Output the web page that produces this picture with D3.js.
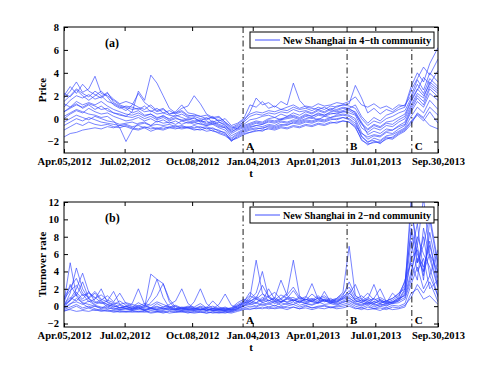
<!DOCTYPE html>
<html lang="en">
<head>
	<meta charset="utf-8">
	<title>New Shanghai price and turnover</title>
	<script src="https://d3js.org/d3.v7.min.js" charset="utf-8"></script>
	<style>
		body { margin: 0; background: #fff; }
		text { font-family: "Liberation Serif", "Times New Roman", serif; font-weight: bold; }
	</style>
</head>
<body>
	<script>
		// sampling dates (about every 9 days)
		var dates = ["2012-04-05","2012-04-14","2012-04-23","2012-05-02","2012-05-11","2012-05-20","2012-05-29","2012-06-07","2012-06-16","2012-06-25",
			"2012-07-04","2012-07-13","2012-07-22","2012-07-31","2012-08-09","2012-08-18","2012-08-27","2012-09-05","2012-09-14","2012-09-23",
			"2012-10-02","2012-10-11","2012-10-20","2012-10-29","2012-11-07","2012-11-16","2012-11-25","2012-12-04","2012-12-13","2012-12-22",
			"2012-12-31","2013-01-09","2013-01-18","2013-01-27","2013-02-05","2013-02-14","2013-02-23","2013-03-04","2013-03-13","2013-03-22",
			"2013-03-31","2013-04-09","2013-04-18","2013-04-27","2013-05-06","2013-05-15","2013-05-24","2013-06-02","2013-06-11","2013-06-20",
			"2013-06-29","2013-07-08","2013-07-17","2013-07-26","2013-08-04","2013-08-13","2013-08-22","2013-08-31","2013-09-09","2013-09-18","2013-09-30"];

		var xTickDates = ["2012-04-05","2012-07-02","2012-10-08","2013-01-04","2013-04-01","2013-07-01","2013-09-30"];
		var xTickLabels = ["Apr.05,2012","Jul.02,2012","Oct.08,2012","Jan.04,2013","Apr.01,2013","Jul.01,2013","Sep.30,2013"];
		var eventDates = ["2012-12-21","2013-05-21","2013-08-23"];
		var eventLabels = ["A","B","C"];
		var priceTicks = [-2, 0, 2, 4, 6, 8];
		var turnoverTicks = [-2, 0, 2, 4, 6, 8, 10, 12];

		// (a) price series, 4-th community
		var priceSeries = [
			[1.8,2.4,3.2,2.3,2.6,3.7,2.2,2.0,1.6,1.2,1.0, 0.8,0.9,0.6,0.7,0.4,0.5,0.3,0.2,0.4,0.1, 0.0,-0.2,0.1,-0.3,-0.1,-0.4,-0.9,-0.6, -0.3,0.2,0.4,0.3,0.5,0.4,0.6,0.5,0.8,0.6,0.7,0.5,0.8,0.6,0.9,0.8,1.0, 0.9,0.5,-0.5,-1.0,-0.6,-0.8,-0.4,-0.5,-0.1,0.2, 1.5,2.5,3.6,3.0,4.2],
			[0.6,0.9,1.2,1.0,1.3,1.1,0.8,0.9,0.5,0.3,0.2, 0.6,2.4,1.6,3.8,3.1,2.0,0.9,0.5,0.7,0.3, 0.2,0.0,-0.1,0.2,-0.3,-0.5,-1.2,-0.8, -0.6,-0.4,-0.2,-0.3,0.0,0.1,-0.1,0.2,0.3,0.1,0.4,0.2,0.5,0.3,0.6,0.7,0.9, 0.8,0.6,-0.3,-1.4,-1.1,-1.3,-0.9,-1.0,-0.6,-0.3, 1.0,2.0,1.5,2.8,2.2],
			[1.5,2.0,2.6,2.2,1.9,2.4,2.0,1.5,1.3,1.0,0.7, 1.2,2.2,1.4,1.0,0.6,0.8,0.4,0.5,0.9,1.1, 2.0,1.3,0.4,0.1,0.2,-0.3,-0.7,-0.9, -0.2,0.6,1.8,1.2,1.4,1.0,1.5,1.2,3.1,1.6,1.0,0.9,0.8,1.0,0.7,1.1,1.2, 1.3,2.9,1.8,0.5,0.9,0.4,0.8,0.6,1.0,1.2, 2.0,3.4,2.5,4.0,3.2],
			[-1.6,-1.3,-1.2,-1.0,-0.9,-0.8,-0.9,-0.7,-0.8,-0.6,-0.7, -0.9,-1.0,-0.8,-1.1,-0.9,-1.0,-0.8,-0.9,-0.7,-0.8, -0.9,-1.0,-0.8,-1.1,-1.2,-1.4,-1.9,-1.6, -1.3,-1.2,-1.0,-1.1,-0.8,-0.9,-0.7,-0.8,-0.6,-0.7,-0.5,-0.6,-0.4,-0.5,-0.3,-0.4,-0.2, -0.3,-0.8,-1.8,-2.3,-2.0,-2.1,-1.8,-1.6,-1.2,-0.9, -0.2,0.4,0.0,-0.6,-0.9],
			[0.2,0.5,0.8,0.6,0.4,0.3,0.1,0.2,-0.2,-0.8,-2.0, -1.0,-0.4,-0.3,-0.6,-0.2,-0.4,-0.3,-0.5,-0.2,-0.4, -0.3,-0.5,-0.6,-0.4,-0.7,-0.8,-1.5,-1.2, -0.9,-0.7,-0.6,-0.5,-0.3,-0.4,-0.2,-0.3,-0.1,-0.2,0.0,0.1,-0.1,0.2,0.1,0.3,0.4, 0.3,0.0,-1.2,-1.8,-1.5,-1.6,-1.2,-1.3,-0.9,-0.6, 0.6,1.5,1.0,2.2,1.6],
			[1.0,1.6,2.0,1.8,2.1,1.7,1.9,2.3,1.4,1.1,0.9, 0.5,0.7,0.3,0.4,0.1,0.2,0.0,0.3,0.1,-0.1, 0.1,-0.3,-0.2,-0.5,-0.3,-0.6,-1.0,-0.7, -0.5,-0.1,0.0,0.2,0.3,0.1,0.4,0.2,0.5,0.3,0.6,0.4,0.7,0.5,0.8,0.6,0.7, 0.9,1.2,0.2,-0.4,0.1,-0.2,0.3,0.5,0.8,1.0, 2.5,3.5,4.5,3.8,5.2],
			[0.0,0.4,0.7,0.5,0.9,0.6,0.4,0.5,0.2,0.0,-0.2, -0.1,0.1,-0.2,0.0,-0.3,-0.1,-0.4,-0.2,-0.5,-0.3, -0.5,-0.4,-0.6,-0.5,-0.8,-1.0,-1.7,-1.3, -1.0,-0.8,-0.6,-0.7,-0.5,-0.6,-0.3,-0.4,-0.2,-0.3,-0.1,-0.2,0.0,-0.1,0.1,0.2,0.3, 0.2,-0.2,-1.5,-2.1,-1.7,-1.9,-1.5,-1.4,-1.1,-0.8, 0.2,1.0,0.5,1.6,0.8],
			[2.2,1.9,2.5,2.0,1.6,2.0,2.4,1.9,1.2,0.9,1.1, 1.0,0.8,1.1,0.6,0.9,0.5,0.7,0.4,0.6,0.2, 0.3,0.2,0.0,0.1,-0.2,0.0,-0.6,-0.4, 0.0,1.2,1.0,1.5,0.9,1.1,0.8,1.0,1.2,0.9,1.1,1.0,1.3,1.1,1.2,1.4,1.3, 1.5,1.9,1.2,1.0,1.3,0.9,1.1,0.8,1.2,1.1, 2.8,4.0,3.2,4.8,6.2],
			[-0.6,-0.3,0.0,-0.2,0.1,-0.1,-0.3,-0.4,-0.5,-0.6,-0.5, -0.7,-0.6,-0.8,-0.7,-0.9,-0.7,-0.8,-0.6,-0.8,-0.7, -0.8,-0.7,-0.9,-0.8,-1.1,-1.2,-2.0,-1.5, -1.2,-1.0,-0.9,-0.8,-0.7,-0.8,-0.6,-0.5,-0.4,-0.5,-0.3,-0.4,-0.2,-0.3,-0.1,0.0,0.1, 0.0,-0.4,-1.6,-2.0,-1.9,-2.2,-1.7,-1.8,-1.4,-1.1, -0.5,0.5,0.1,1.0,0.3],
			[1.3,1.0,1.5,1.2,1.4,1.2,1.5,1.1,0.8,0.6,0.4, 0.3,0.5,0.2,0.4,0.0,0.3,-0.1,0.1,-0.2,0.0, -0.2,-0.1,-0.4,-0.2,-0.5,-0.7,-1.1,-0.9, -0.7,-0.5,-0.3,-0.4,-0.1,-0.2,0.0,0.1,0.2,0.0,0.3,0.2,0.4,0.3,0.5,0.4,0.6, 0.5,0.3,-0.8,-1.2,-0.8,-1.0,-0.6,-0.7,-0.3,0.0, 1.2,2.2,1.8,3.2,2.6],
			[-0.3,0.0,0.3,0.1,-0.1,0.2,0.0,-0.2,-0.3,-0.5,-0.4, -0.3,-0.5,-0.4,-0.6,-0.5,-0.6,-0.5,-0.7,-0.6,-0.8, -0.6,-0.8,-0.7,-0.9,-1.0,-1.3,-1.8,-1.4, -1.1,-0.9,-0.8,-0.9,-0.6,-0.7,-0.5,-0.6,-0.3,-0.4,-0.2,-0.3,-0.1,-0.2,0.0,-0.1,0.1, -0.1,-0.6,-1.3,-1.6,-1.4,-1.5,-1.1,-1.0,-0.7,-0.5, 0.8,1.8,1.2,2.6,1.9],
			[2.0,2.8,2.2,3.0,2.4,2.1,1.8,2.2,1.7,1.3,1.5, 1.3,1.0,0.8,1.2,0.7,0.9,0.4,0.6,1.2,0.5, 0.4,0.2,0.3,0.0,0.1,-0.3,-0.8,-0.5, -0.1,0.4,0.6,0.5,0.7,0.6,0.8,0.7,1.0,0.8,0.9,0.7,1.0,0.8,1.1,1.0,1.2, 1.1,0.9,0.0,-0.6,-0.2,-0.4,0.0,0.2,0.5,0.7, 1.8,3.0,2.2,3.5,2.8],
			[-1.0,-0.7,-0.4,-0.6,-0.3,-0.5,-0.6,-0.5,-0.7,-0.8,-0.6, -0.8,-0.9,-0.7,-0.9,-0.8,-0.9,-0.7,-0.8,-0.9,-0.8, -1.0,-0.9,-1.1,-1.0,-1.3,-1.5,-1.9,-1.7, -1.4,-1.2,-1.1,-1.0,-0.9,-1.0,-0.8,-0.9,-0.7,-0.8,-0.6,-0.7,-0.5,-0.6,-0.4,-0.3,-0.2, -0.3,-0.7,-1.9,-2.2,-2.1,-2.0,-1.6,-1.7,-1.3,-1.0, -0.3,0.3,-0.2,0.6,-0.4],
			[0.6,1.0,1.3,0.9,1.2,0.8,1.1,0.7,0.5,0.4,0.2, 0.1,0.3,0.0,0.2,-0.1,0.1,-0.2,0.0,-0.1,-0.2, -0.3,-0.2,-0.5,-0.3,-0.6,-0.8,-1.3,-1.0, -0.8,-0.6,-0.4,-0.5,-0.2,-0.3,-0.1,0.0,0.1,-0.1,0.2,0.0,0.3,0.2,0.4,0.5,0.6, 0.7,0.4,-0.4,-0.9,-0.5,-0.7,-0.3,-0.2,0.1,0.4, 1.6,2.6,2.0,3.0,2.4]
		];

		// (b) turnover rate series, 2-nd community
		var turnoverSeries = [
			[0.5,5.0,1.2,0.3,-0.2,0.0,-0.3,-0.1,-0.4,-0.2,-0.3, -0.4,-0.2,-0.5,-0.3,-0.4,-0.5,-0.3,-0.4,-0.5,-0.4, -0.5,-0.3,-0.5,-0.4,-0.6,-0.5,-0.4,-0.3, 0.2,0.5,0.3,0.8,0.4,0.6,0.9,1.5,5.3,1.2,0.5,0.8,0.4,0.7,0.3,0.5,0.8, 1.0,0.4,0.2,0.5,0.1,0.3,0.0,0.4,0.6,1.5, 6.0,9.5,4.0,7.5,2.5],
			[0.0,1.5,4.4,2.0,0.8,0.2,0.5,-0.1,0.3,-0.2,0.0, -0.3,0.1,-0.2,3.7,3.1,1.0,-0.2,-0.4,-0.3,-0.5, -0.4,-0.5,-0.3,-0.5,-0.4,-0.6,-0.5,-0.2, 0.4,1.0,5.3,1.5,0.6,1.0,0.5,0.8,0.6,1.1,0.7,0.9,0.6,0.8,0.5,0.7,1.0, 1.8,0.6,0.4,0.2,0.5,0.3,0.6,0.4,0.8,2.0, 12.5,5.0,8.0,3.5,6.5],
			[-0.2,0.8,2.0,3.8,1.6,1.0,0.4,0.2,-0.1,0.1,-0.3, -0.2,-0.4,0.0,1.2,3.1,2.6,0.5,-0.3,-0.2,-0.4, -0.3,-0.4,-0.5,-0.3,-0.5,-0.4,-0.3,0.0, 0.5,0.3,0.8,0.5,1.2,0.6,0.4,0.9,1.0,0.6,0.8,0.5,1.0,0.6,0.4,0.9,1.6, 6.9,1.2,0.5,0.8,0.3,0.6,0.2,0.5,0.9,1.2, 4.0,7.0,3.0,10.0,4.5],
			[-0.5,-0.4,-0.6,-0.5,-0.6,-0.4,-0.6,-0.5,-0.7,-0.6,-0.7, -0.6,-0.7,-0.6,-0.8,-0.7,-0.6,-0.8,-0.7,-0.6,-0.7, -0.8,-0.7,-0.6,-0.8,-0.7,-0.8,-0.6,-0.5, -0.3,-0.4,-0.2,-0.3,-0.1,-0.3,-0.2,-0.4,-0.1,-0.3,-0.2,-0.4,-0.2,-0.3,-0.1,-0.3,-0.2, 0.0,-0.3,-0.2,-0.4,-0.3,-0.5,-0.2,-0.4,-0.3,-0.1, 1.5,2.0,0.8,1.2,0.2],
			[0.3,1.0,0.6,1.4,0.5,0.8,2.0,0.4,0.1,-0.2,0.0, -0.3,-0.1,-0.4,-0.2,-0.3,-0.1,0.2,0.6,2.0,0.3, -0.2,-0.4,-0.3,-0.5,-0.4,-0.3,-0.5,-0.3, 0.0,0.6,0.9,0.4,0.7,0.3,0.6,0.5,0.8,0.4,1.0,2.6,0.8,0.5,0.7,0.4,0.9, 1.2,0.7,0.4,0.8,2.5,0.6,0.3,0.5,0.7,1.8, 7.5,4.0,5.5,2.0,3.0],
			[0.1,0.6,1.6,0.8,1.7,0.5,0.3,0.6,1.7,0.2,-0.1, 0.3,2.0,0.2,-0.2,0.0,-0.3,-0.1,-0.4,-0.2,-0.3, 0.5,2.0,0.3,-0.3,-0.4,-0.2,-0.4,-0.1, 0.3,0.8,1.5,4.0,1.0,0.5,0.8,0.4,0.7,0.5,0.3,0.6,0.4,0.8,0.5,0.3,0.6, 0.9,0.5,0.7,0.3,0.9,2.0,0.5,0.3,0.6,1.0, 3.5,8.0,6.0,4.5,1.0],
			[-0.2,0.3,0.5,0.2,0.6,0.1,-0.1,-0.3,-0.2,-0.4,-0.3, -0.5,-0.3,-0.4,-0.2,-0.5,-0.4,-0.3,-0.5,-0.4,-0.3, -0.4,-0.2,-0.5,-0.3,0.2,1.4,0.1,-0.2, 0.1,0.3,0.0,0.4,0.2,0.5,0.1,0.3,0.2,0.6,0.3,0.1,0.4,1.7,0.5,0.2,0.4, 0.7,0.3,0.1,0.4,0.2,0.0,0.3,0.5,1.0,3.0, 5.0,3.0,9.0,5.5,2.0],
			[0.4,2.5,1.2,2.8,0.9,1.5,0.6,0.2,0.0,-0.2,-0.1, -0.2,0.0,-0.3,0.4,1.2,2.6,0.8,-0.1,-0.3,-0.2, -0.3,-0.1,-0.4,-0.2,-0.3,-0.5,-0.3,0.1, 0.3,0.7,0.4,1.0,0.6,0.9,3.0,1.2,0.7,0.4,0.8,0.5,0.3,0.7,0.4,0.6,0.9, 1.4,2.5,0.8,0.5,0.3,0.7,0.4,1.5,0.8,1.3, 5.5,6.5,3.5,8.5,3.8],
			[-0.4,-0.1,0.2,-0.2,0.0,-0.3,-0.5,-0.4,-0.6,-0.5,-0.6, -0.5,-0.6,-0.7,-0.5,-0.6,-0.7,-0.5,-0.6,-0.7,-0.6, -0.7,-0.6,-0.8,-0.6,-0.7,-0.6,-0.7,-0.4, -0.2,0.0,-0.1,0.2,-0.1,0.1,-0.2,0.0,0.2,-0.1,0.1,-0.2,0.0,0.1,-0.1,0.0,0.2, 0.4,0.0,-0.2,0.1,-0.3,0.0,-0.2,0.1,0.0,0.3, 2.5,4.5,2.0,3.5,1.2],
			[1.0,2.2,3.2,1.5,1.0,1.7,0.8,0.5,0.2,0.6,0.1, -0.1,0.4,0.0,-0.2,0.3,-0.1,0.0,-0.3,-0.1,-0.2, -0.3,0.0,-0.2,0.6,-0.1,-0.3,-0.2,0.2, 0.6,1.2,0.8,1.4,1.0,0.7,1.3,0.9,1.8,0.8,1.1,0.6,0.9,1.2,0.7,0.9,1.4, 2.2,0.9,0.6,1.0,0.5,0.8,0.4,0.7,1.2,2.4, 11.0,7.0,12.5,6.0,4.0],
			[-0.3,0.2,0.9,0.4,0.2,0.0,-0.2,0.1,-0.3,-0.4,-0.3, -0.4,-0.2,-0.5,-0.3,-0.4,-0.2,-0.4,-0.3,-0.5,-0.4, -0.5,-0.4,-0.3,-0.5,-0.4,-0.5,-0.6,-0.3, 0.0,0.2,0.4,0.1,0.3,0.0,0.4,0.2,0.5,0.1,0.3,0.2,0.5,0.2,0.3,0.1,0.5, 0.6,0.2,0.0,0.3,-0.1,0.2,0.1,0.3,0.4,0.8, 3.0,5.5,4.0,6.0,2.2],
			[0.2,0.7,1.3,0.6,0.9,0.4,0.7,1.2,0.5,1.5,0.3, 0.0,-0.2,0.1,-0.3,-0.1,-0.3,-0.2,0.0,-0.3,-0.1, -0.2,-0.4,-0.1,-0.3,-0.2,-0.4,-0.2,0.4, 0.8,0.5,1.1,0.6,2.0,0.8,0.5,1.0,0.6,0.9,0.4,0.7,1.2,0.6,0.9,0.5,1.1, 1.5,0.8,1.2,0.6,0.9,0.4,0.6,0.9,1.4,2.8, 8.5,5.0,7.0,10.5,5.0],
			[-0.6,-0.3,0.0,-0.4,-0.2,-0.5,-0.4,-0.6,-0.5,-0.7,-0.6, -0.7,-0.6,-0.5,-0.7,-0.6,-0.8,-0.6,-0.7,-0.6,-0.8, -0.6,-0.7,-0.8,-0.7,-0.8,-0.7,-0.8,-0.6, -0.4,-0.2,-0.3,-0.1,-0.3,-0.2,0.0,-0.2,-0.1,-0.3,0.0,-0.2,-0.1,0.0,-0.2,-0.1,0.0, 0.2,-0.2,-0.4,-0.1,-0.3,-0.2,-0.4,-0.1,-0.2,0.1, 1.0,2.5,1.5,2.8,0.5],
			[0.8,1.8,2.4,1.2,1.5,0.9,1.3,0.7,0.4,0.2,0.4, 0.2,0.0,0.3,0.1,0.5,0.2,-0.1,0.1,-0.2,0.0, -0.1,0.3,-0.2,0.0,-0.3,-0.1,-0.4,0.0, 0.5,1.6,0.9,2.4,1.1,1.6,0.8,1.3,2.2,1.0,0.7,1.4,0.8,1.0,0.6,0.8,1.2, 2.8,1.2,0.8,1.5,0.7,1.0,0.6,0.9,1.5,2.0, 9.0,6.0,4.5,7.0,3.2]
		];

		var w = 491;
		var h = 369;
		var left = 64, right = 438; // plot area edges shared by both panels

		var parse = d3.timeParse("%Y-%m-%d");
		var t = dates.map(parse);

		var svg = d3.select("body")
			.append("svg")
			.attr("width", w)
			.attr("height", h);

		var x = d3.scaleTime()
			.domain([parse("2012-04-05"), parse("2013-09-30")])
			.range([left, right]);

		function drawPanel(id, top, bottom, yDomain, yTicks, series, yLabel, tag, legendText) {
			var y = d3.scaleLinear().domain(yDomain).range([bottom, top]);
			var g = svg.append("g");

			g.append("clipPath").attr("id", "clip" + id)
				.append("rect")
				.attr("x", left).attr("y", top)
				.attr("width", right - left).attr("height", bottom - top);

			var line = d3.line()
				.x(function(d, i) { return x(t[i]); })
				.y(function(d) { return y(d); });

			g.append("g").attr("clip-path", "url(#clip" + id + ")")
				.selectAll("path")
				.data(series)
				.enter()
				.append("path")
				.attr("d", line)
				.attr("fill", "none")
				.attr("stroke", "#2a3dff")
				.attr("stroke-width", 0.75)
				.attr("stroke-opacity", 0.85);

			// event lines A, B, C
			eventDates.forEach(function(d, i) {
				var ex = x(parse(d));
				g.append("line")
					.attr("x1", ex).attr("x2", ex)
					.attr("y1", top).attr("y2", bottom)
					.attr("stroke", "#000")
					.attr("stroke-width", 0.9)
					.attr("stroke-dasharray", "6,3,1.5,3");
				g.append("text")
					.attr("x", ex + 3)
					.attr("y", bottom - 3)
					.attr("font-size", "11px")
					.text(eventLabels[i]);
			});

			// axes, ticks inside the box like matlab
			var xb = d3.axisBottom(x)
				.tickValues(xTickDates.map(parse))
				.tickFormat(function(d, i) { return xTickLabels[i]; })
				.tickSizeInner(-4).tickSizeOuter(0).tickPadding(5);
			var xt = d3.axisTop(x)
				.tickValues(xTickDates.map(parse))
				.tickFormat("")
				.tickSizeInner(-4).tickSizeOuter(0);
			var yl = d3.axisLeft(y)
				.tickValues(yTicks)
				.tickFormat(function(d) { return d < 0 ? "\u2212" + Math.abs(d) : d; })
				.tickSizeInner(-4).tickSizeOuter(0).tickPadding(5);
			var yr = d3.axisRight(y)
				.tickValues(yTicks)
				.tickFormat("")
				.tickSizeInner(-4).tickSizeOuter(0);

			g.append("g").attr("transform", "translate(0," + bottom + ")").call(xb);
			g.append("g").attr("transform", "translate(0," + top + ")").call(xt);
			g.append("g").attr("transform", "translate(" + left + ",0)").call(yl);
			g.append("g").attr("transform", "translate(" + right + ",0)").call(yr);

			g.selectAll(".tick text")
				.attr("font-family", "Liberation Serif, serif")
				.attr("font-weight", "bold")
				.attr("font-size", "10.5px")
				.attr("fill", "#000");
			g.selectAll(".domain").remove();

			g.append("rect")
				.attr("x", left).attr("y", top)
				.attr("width", right - left).attr("height", bottom - top)
				.attr("fill", "none")
				.attr("stroke", "#000")
				.attr("stroke-width", 1);

			// legend box
			var lx = left + 186, ly = top + 5;
			g.append("rect")
				.attr("x", lx).attr("y", ly)
				.attr("width", 184).attr("height", 16)
				.attr("fill", "#fff")
				.attr("stroke", "#000")
				.attr("stroke-width", 1);
			g.append("line")
				.attr("x1", lx + 5).attr("x2", lx + 30)
				.attr("y1", ly + 8).attr("y2", ly + 8)
				.attr("stroke", "#2a3dff")
				.attr("stroke-width", 0.9);
			g.append("text")
				.attr("x", lx + 33)
				.attr("y", ly + 12)
				.attr("font-size", "11px")
				.attr("textLength", 148)
				.attr("lengthAdjust", "spacingAndGlyphs")
				.text(legendText);

			g.append("text")
				.attr("x", 105)
				.attr("y", top + 20)
				.attr("font-size", "12px")
				.text(tag);

			g.append("text")
				.attr("transform", "translate(46," + ((top + bottom) / 2) + ") rotate(-90)")
				.attr("text-anchor", "middle")
				.attr("font-size", "11px")
				.text(yLabel);

			g.append("text")
				.attr("x", 251)
				.attr("y", bottom + 24)
				.attr("text-anchor", "middle")
				.attr("font-size", "11px")
				.text("t");
		}

		drawPanel("a", 27, 153, [-3, 8], priceTicks, priceSeries, "Price", "(a)", "New Shanghai in 4\u2212th community");
		drawPanel("b", 202, 327, [-2.4, 12], turnoverTicks, turnoverSeries, "Turnover rate", "(b)", "New Shanghai in 2\u2212nd community");
	</script>
</body>
</html>
